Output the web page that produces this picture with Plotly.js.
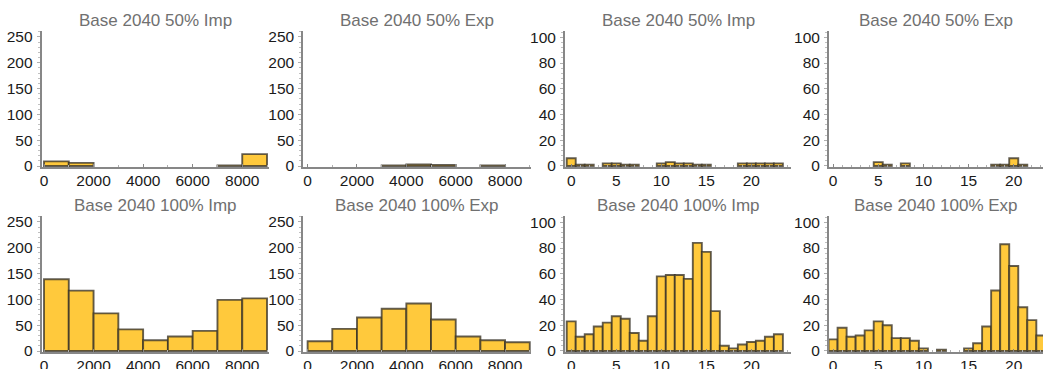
<!DOCTYPE html>
<html><head><meta charset="utf-8">
<script src="https://cdn.plot.ly/plotly-3.0.1.min.js"></script>
<style>html,body{margin:0;padding:0;background:#fff}#chart{width:1043px;height:369px}</style>
</head><body><div id="chart"></div>
<script>
// ---- data ----
const dollarBinStarts = [0, 1000, 2000, 3000, 4000, 5000, 6000, 7000, 8000];
const dollarBinWidth = 1000;
const hourBins = [0,1,2,3,4,5,6,7,8,9,10,11,12,13,14,15,16,17,18,19,20,21,22,23];
const hourBinWidth = 1;

const titles = ["Base 2040 50% Imp", "Base 2040 50% Exp", "Base 2040 50% Imp", "Base 2040 50% Exp",
                "Base 2040 100% Imp", "Base 2040 100% Exp", "Base 2040 100% Imp", "Base 2040 100% Exp"];

const imp50Dollar  = [9, 6, 0, 0, 0, 0, 0, 1, 23];
const exp50Dollar  = [0, 0, 0, 1, 3, 2, 0, 1, 0];
const imp50Hour    = [6,1,1,0,2,2,1,1,0,0,2,3,2,2,1,1,0,0,0,2,2,2,2,2];
const exp50Hour    = [0,0,0,0,0,3,1,0,2,0,0,0,0,0,0,0,0,0,1,1,6,1,0,0];
const imp100Dollar = [139, 117, 73, 42, 21, 28, 39, 99, 102];
const exp100Dollar = [19, 43, 65, 82, 92, 61, 28, 21, 17];
const imp100Hour   = [23,11,13,19,22,27,25,14,8,27,58,59,59,56,84,77,31,4,2,5,7,8,11,13];
const exp100Hour   = [9,18,11,12,16,23,20,10,10,8,2,0,1,0,0,2,6,19,47,83,66,34,24,12];

// ---- layout geometry (pixels) ----
const W = 1043, H = 369;
const cols = [[41.7, 269], [303.3, 531], [565, 791], [829, 1043]];
const rows = [[31, 167], [216, 352]];
const xRanges = [[-93, 9080], [-175, 9050], [-0.69, 24.4], [-0.45, 23.24]];
const yDollar = [-1.9, 261.6], yHour = [-0.8, 104.9];

const panels = [
  {bins: dollarBinStarts, w: dollarBinWidth, y: imp50Dollar, offset: 0.5},
  {bins: dollarBinStarts, w: dollarBinWidth, y: exp50Dollar, offset: 0.5},
  {bins: hourBins, w: hourBinWidth, y: imp50Hour, offset: 0},
  {bins: hourBins, w: hourBinWidth, y: exp50Hour, offset: 0},
  {bins: dollarBinStarts, w: dollarBinWidth, y: imp100Dollar, offset: 0.5},
  {bins: dollarBinStarts, w: dollarBinWidth, y: exp100Dollar, offset: 0.5},
  {bins: hourBins, w: hourBinWidth, y: imp100Hour, offset: 0},
  {bins: hourBins, w: hourBinWidth, y: exp100Hour, offset: 0}
];

const FONT = "Liberation Sans, Arial, sans-serif";
const axisColor = "#878787";
const traces = [];
const layout = {
  width: W, height: H, margin: {l:0, r:0, t:0, b:0},
  paper_bgcolor: "#fff", plot_bgcolor: "#fff", showlegend: false,
  font: {family: FONT, size: 15, color: "#1a1a1a"},
  annotations: [], bargap: 0
};

panels.forEach((p, i) => {
  const r = Math.floor(i / 4), c = i % 4;
  const n = i + 1;
  const xa = "x" + (n === 1 ? "" : n), ya = "y" + (n === 1 ? "" : n);
  const isHour = c >= 2;
  traces.push({
    type: "bar", xaxis: xa, yaxis: ya,
    x: p.bins.map(b => b + p.offset * p.w),
    y: p.y.map(v => v === 0 ? null : v),
    width: p.bins.map(() => p.w),
    marker: {color: "#ffc93c", line: {color: "rgba(55,50,40,0.78)", width: 1.9}},
    hoverinfo: "skip"
  });
  const dx = [cols[c][0] / W, Math.min(1, cols[c][1] / W)];
  const dy = [1 - rows[r][1] / H, 1 - rows[r][0] / H];
  layout["xaxis" + (n === 1 ? "" : n)] = {
    domain: dx, range: xRanges[c], anchor: ya,
    showline: true, linecolor: axisColor, linewidth: 2,
    showgrid: false, zeroline: false,
    tickmode: "linear", tick0: 0, dtick: isHour ? 5 : 2000,
    ticks: "inside", ticklen: 3, tickcolor: axisColor, tickwidth: 1,
    minor: {ticks: "inside", ticklen: 2, dtick: isHour ? 1 : 1000, tickcolor: "#b0b0b0"},
    tickfont: {family: FONT, size: 15.5, color: "#1a1a1a"},
    ticklabelstandoff: -2
  };
  layout["yaxis" + (n === 1 ? "" : n)] = {
    domain: dy, range: isHour ? yHour : yDollar, anchor: xa,
    showline: true, linecolor: axisColor, linewidth: 2,
    showgrid: false, zeroline: false,
    tickmode: "linear", tick0: 0, dtick: isHour ? 20 : 50,
    ticks: "outside", ticklen: 3, tickcolor: "#b0b0b0", tickwidth: 1,
    minor: {ticks: "outside", ticklen: 2, dtick: isHour ? 4 : 10, tickcolor: "#c0c0c0"},
    tickfont: {family: FONT, size: 15.5, color: "#1a1a1a"},
    ticklabelstandoff: 1
  };
  layout.annotations.push({
    text: titles[i], xref: "paper", yref: "paper",
    x: (cols[c][0] + Math.min(cols[c][1], 1043)) / 2 / W,
    y: 1 - (rows[r][0] - 10.5) / H, xanchor: "center", yanchor: "middle",
    showarrow: false, font: {family: FONT, size: 17, color: "#707070"}
  });
});

Plotly.newPlot("chart", traces, layout, {staticPlot: true, displayModeBar: false});
</script>
</body></html>
